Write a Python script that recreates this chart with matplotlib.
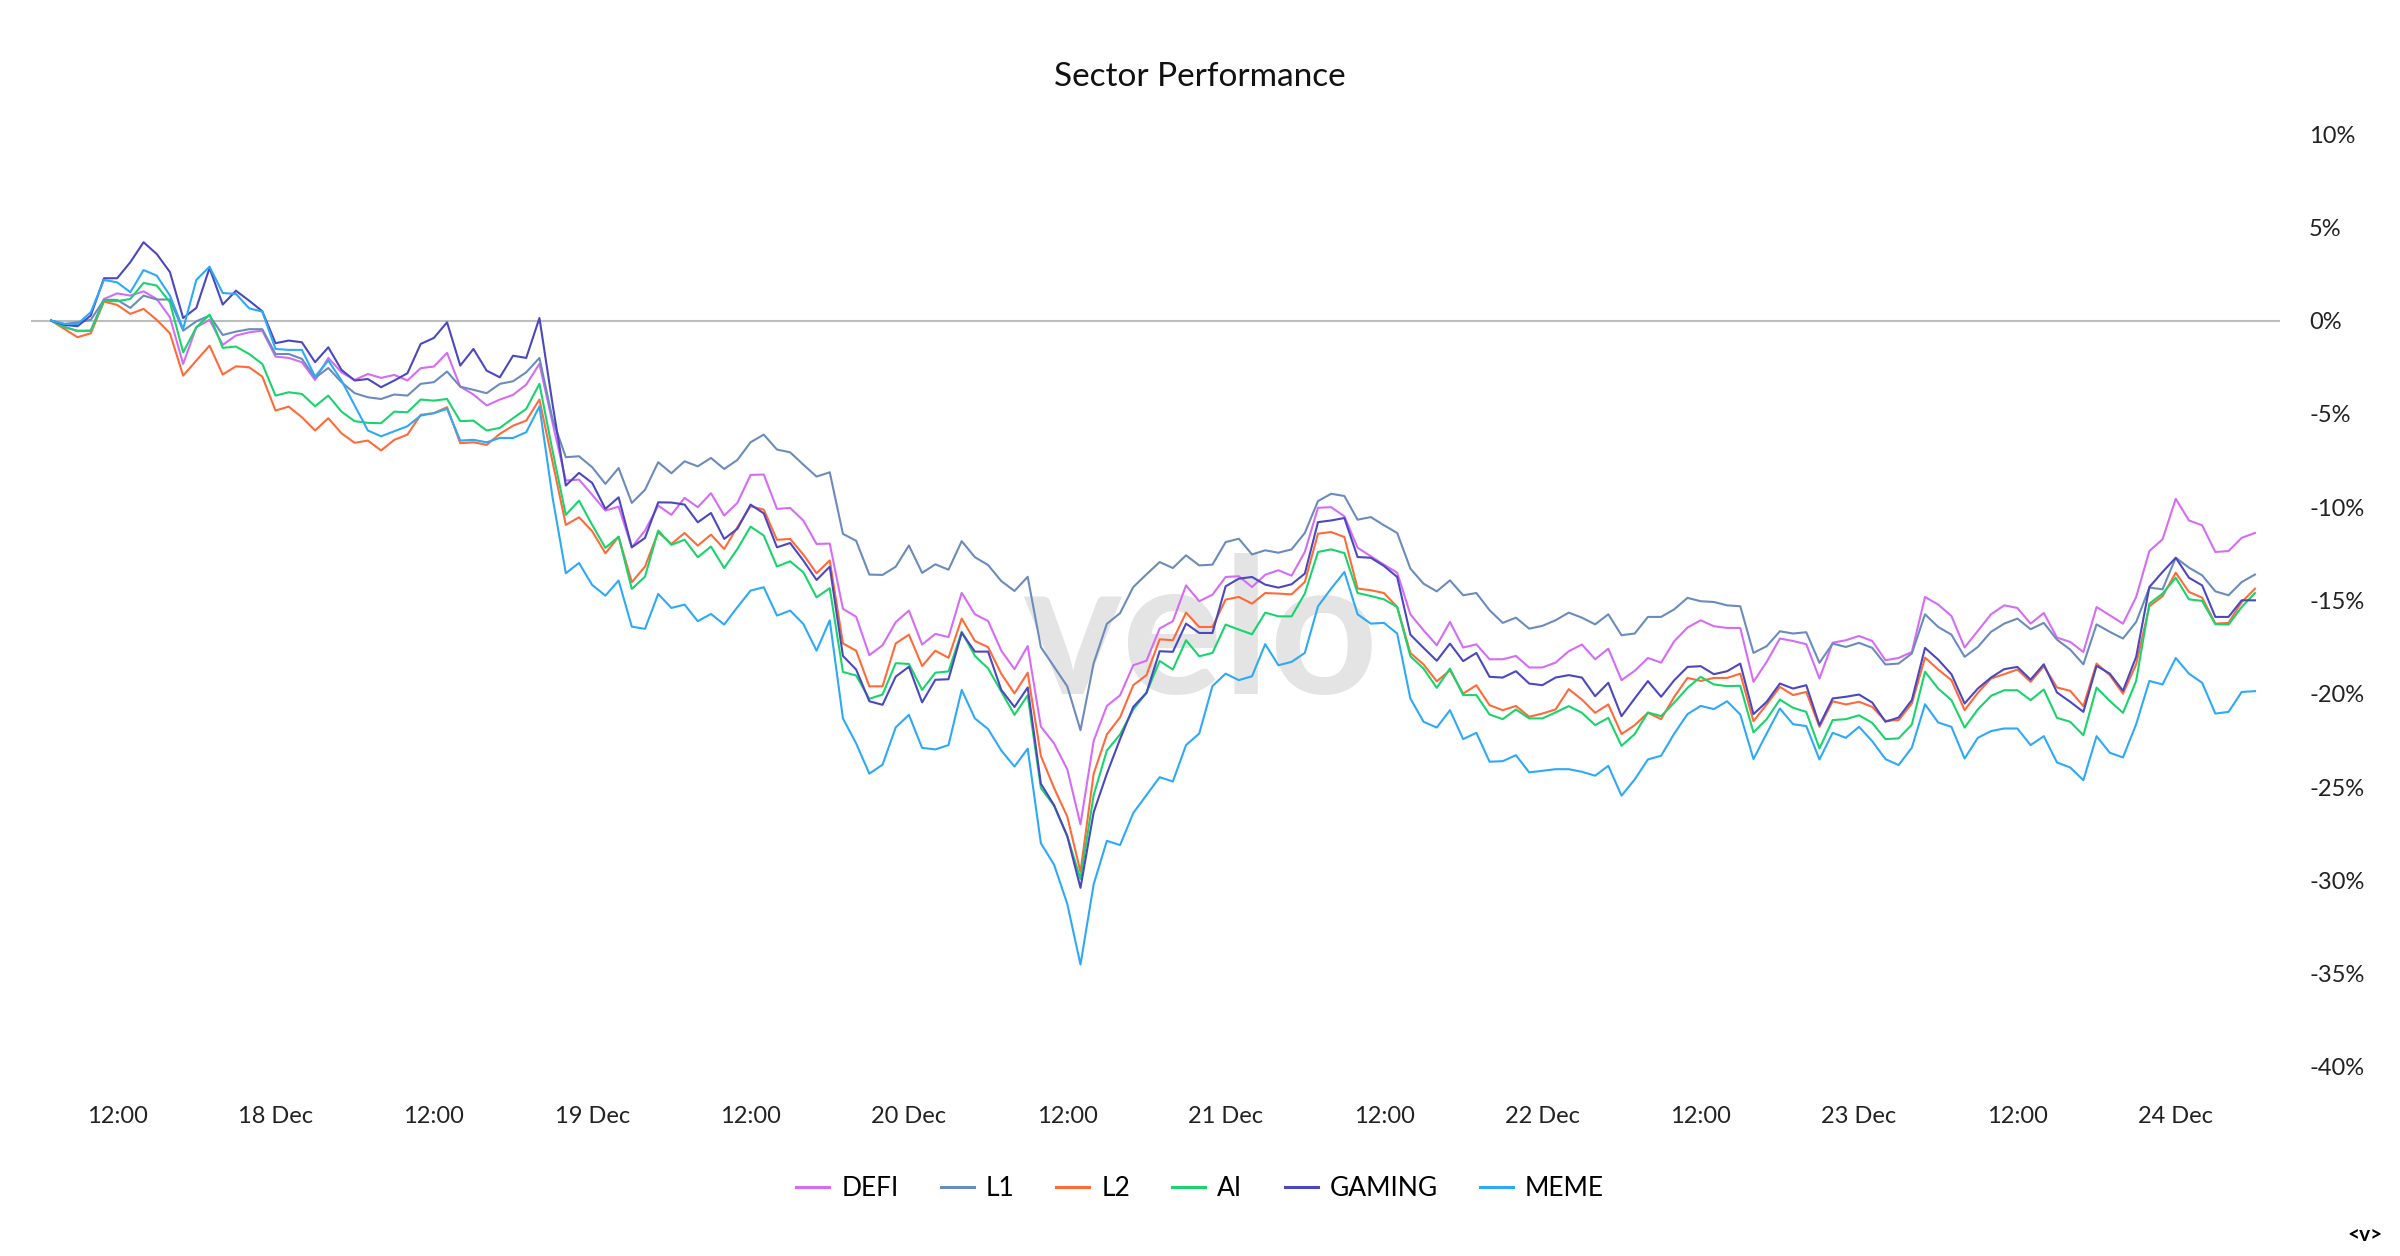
import pandas as pd
import matplotlib
matplotlib.use("Agg")
from matplotlib import pyplot as plt

plt.rcParams['font.family'] = ['Lato', 'DejaVu Sans']

# hourly % change since start, 17 Dec 07:00 -> 24 Dec 06:00
defi = [0, -0.32, -0.57, -0.54, 1.16, 1.46, 1.34, 1.57, 1.16, 0.18, -2.32, -0.36, 0.04, -1.3, -0.8, -0.63, -0.54, -1.93, -2.0, -2.23, -3.18,
        -2.0, -2.77, -3.18, -2.86, -3.07, -2.91, -3.21, -2.55, -2.46, -1.73, -3.54, -3.96, -4.55, -4.23, -3.98, -3.43, -2.32,
        -5.5, -8.57, -8.52, -9.34, -10.18, -9.97, -12.15, -11.25, -9.91, -10.41, -9.5, -10.0, -9.25, -10.45, -9.77, -8.27, -8.25, -10.09, -10.04, -10.72, -11.97,
        -11.95, -15.45, -15.87, -17.93, -17.4, -16.16, -15.54, -17.36, -16.79, -16.96, -14.59, -15.74, -16.1, -17.69, -18.68, -17.44, -21.76, -22.66, -24.05, -27.0, -22.52, -20.65, -20.08,
        -18.47, -18.23, -16.5, -16.11, -14.19, -15.04, -14.69, -13.74, -13.7, -14.28, -13.62, -13.38, -13.67, -12.4, -10.03, -10.0, -10.49, -12.17, -12.63, -13.08, -13.51, -15.74, -16.6, -17.4,
        -16.15, -17.52, -17.35, -18.15, -18.15, -17.97, -18.59, -18.59, -18.33, -17.72, -17.36, -18.15, -17.58, -19.27, -18.77, -18.08, -18.33, -17.18, -16.45, -16.06, -16.38, -16.47, -16.47, -19.36, -18.29,
        -17.04, -17.17, -17.34, -19.18, -17.26, -17.13, -16.9, -17.17, -18.2, -18.08, -17.76, -14.81, -15.22, -15.83, -17.52, -16.63, -15.74, -15.26, -15.4, -16.24, -15.67, -16.99, -17.22, -17.76,
        -15.35, -15.79, -16.24, -14.81, -12.35, -11.72, -9.55, -10.71, -10.97, -12.4, -12.35, -11.64, -11.38]
l1 = [0, -0.18, -0.09, 0.04, 1.11, 1.11, 0.68, 1.34, 1.13, 1.13, -0.54, -0.04, 0.27, -0.77, -0.59, -0.46, -0.46, -1.79, -1.79, -2.05, -3.07,
      -2.54, -3.3, -3.89, -4.11, -4.2, -3.96, -4.02, -3.39, -3.3, -2.73, -3.54, -3.71, -3.89, -3.39, -3.25, -2.77, -2.0,
      -5.3, -7.32, -7.27, -7.86, -8.75, -7.9, -9.77, -9.07, -7.59, -8.18, -7.54, -7.81, -7.36, -7.95, -7.47, -6.52, -6.11, -6.91, -7.06, -7.72, -8.36,
      -8.13, -11.43, -11.8, -13.61, -13.63, -13.19, -12.05, -13.52, -13.06, -13.35, -11.82, -12.68, -13.1, -13.96, -14.49, -13.73, -17.5, -18.55, -19.6, -21.95, -18.36, -16.25, -15.68,
      -14.28, -13.6, -12.94, -13.26, -12.58, -13.12, -13.08, -11.87, -11.69, -12.53, -12.31, -12.44, -12.26, -11.38, -9.67, -9.28, -9.4, -10.67, -10.53, -10.97, -11.38, -13.29, -14.1, -14.51,
      -13.92, -14.72, -14.6, -15.52, -16.2, -15.92, -16.51, -16.36, -16.06, -15.65, -15.92, -16.28, -15.74, -16.86, -16.77, -15.88, -15.88, -15.47, -14.86, -15.04, -15.08, -15.26, -15.31, -17.81, -17.45,
      -16.65, -16.77, -16.7, -18.34, -17.31, -17.49, -17.27, -17.54, -18.43, -18.38, -17.84, -15.74, -16.42, -16.83, -18.02, -17.49, -16.68, -16.24, -15.97, -16.54, -16.2, -17.1, -17.63, -18.42,
      -16.28, -16.68, -17.04, -16.15, -14.31, -14.4, -12.71, -13.24, -13.65, -14.51, -14.72, -14.01, -13.61]
l2 = [0, -0.45, -0.89, -0.68, 1.02, 0.84, 0.36, 0.63, 0.04, -0.68, -2.95, -2.14, -1.34, -2.89, -2.45, -2.5, -3.0, -4.82, -4.61, -5.18, -5.89,
      -5.23, -6.04, -6.55, -6.43, -6.96, -6.39, -6.11, -5.05, -4.96, -4.64, -6.57, -6.52, -6.66, -6.07, -5.63, -5.36, -4.23,
      -7.6, -10.95, -10.54, -11.29, -12.47, -11.58, -14.02, -13.18, -11.34, -11.97, -11.38, -12.06, -11.47, -12.24, -11.07, -9.95, -10.13, -11.75, -11.7, -12.54, -13.54,
      -12.85, -17.3, -17.69, -19.6, -19.6, -17.3, -16.83, -18.51, -17.69, -18.07, -15.97, -17.17, -17.5, -18.93, -19.98, -18.87, -23.33, -25.05, -26.58, -29.54, -24.28, -22.18, -21.26,
      -19.54, -19.0, -17.08, -17.13, -15.65, -16.42, -16.42, -14.95, -14.81, -15.17, -14.6, -14.63, -14.67, -14.01, -11.42, -11.33, -11.6, -14.36, -14.45, -14.6, -15.35, -17.81, -18.43, -19.33,
      -18.74, -19.99, -19.54, -20.61, -20.88, -20.65, -21.23, -21.06, -20.84, -19.75, -20.31, -21.02, -20.57, -22.16, -21.68, -21.02, -21.36, -20.16, -19.15, -19.31, -19.15, -19.15, -18.92, -21.47, -20.57,
      -19.63, -20.07, -19.9, -21.77, -20.4, -20.57, -20.43, -20.7, -21.45, -21.41, -20.52, -18.06, -18.7, -19.27, -20.88, -19.95, -19.18, -18.95, -18.7, -19.36, -18.52, -19.66, -19.84, -20.66,
      -18.38, -19.0, -19.99, -18.42, -15.31, -14.77, -13.51, -14.54, -14.85, -16.24, -16.2, -15.08, -14.37]
ai = [0, -0.36, -0.54, -0.54, 1.07, 1.04, 1.16, 2.02, 1.88, 0.98, -1.7, -0.36, 0.32, -1.46, -1.39, -1.79, -2.32, -4.02, -3.84, -3.93, -4.59,
      -4.02, -4.88, -5.39, -5.48, -5.5, -4.88, -4.91, -4.23, -4.29, -4.2, -5.39, -5.36, -5.89, -5.75, -5.23, -4.73, -3.39,
      -7.0, -10.41, -9.65, -10.95, -12.18, -11.58, -14.38, -13.72, -11.25, -12.02, -11.74, -12.68, -12.11, -13.26, -12.24, -11.04, -11.52, -13.18, -12.9, -13.49, -14.83,
      -14.34, -18.83, -19.02, -20.27, -20.04, -18.36, -18.4, -19.79, -18.87, -18.8, -16.67, -17.97, -18.64, -19.89, -21.13, -20.08, -25.05, -26.0, -27.63, -29.92, -25.43, -23.04, -22.18,
      -20.84, -19.95, -18.24, -18.7, -17.13, -17.99, -17.81, -16.29, -16.56, -16.81, -15.65, -15.85, -15.85, -14.63, -12.4, -12.26, -12.46, -14.6, -14.76, -14.94, -15.35, -17.99, -18.65, -19.68,
      -18.65, -20.07, -20.07, -21.11, -21.36, -20.84, -21.32, -21.32, -21.0, -20.66, -21.02, -21.68, -21.29, -22.79, -22.16, -21.0, -21.2, -20.47, -19.68, -19.09, -19.5, -19.59, -19.57, -22.07, -21.36,
      -20.31, -20.75, -20.97, -22.93, -21.41, -21.36, -21.15, -21.56, -22.43, -22.39, -21.65, -18.82, -19.72, -20.34, -21.81, -20.84, -20.11, -19.81, -19.81, -20.34, -19.77, -21.29, -21.5, -22.22,
      -19.67, -20.38, -21.02, -19.31, -15.17, -14.63, -13.78, -14.94, -15.02, -16.27, -16.29, -15.35, -14.6]
gaming = [0, -0.23, -0.3, 0.27, 2.27, 2.27, 3.13, 4.2, 3.57, 2.6, 0.14, 0.68, 2.82, 0.86, 1.6, 1.07, 0.5, -1.21, -1.07, -1.16, -2.23,
          -1.43, -2.64, -3.21, -3.13, -3.57, -3.21, -2.82, -1.25, -0.93, -0.09, -2.41, -1.52, -2.68, -3.04, -1.88, -2.0, 0.14,
          -4.5, -8.84, -8.16, -8.7, -10.09, -9.47, -12.15, -11.65, -9.74, -9.75, -9.86, -10.81, -10.31, -11.7, -11.16, -9.86, -10.33, -12.15, -11.92, -12.86, -13.9,
          -13.19, -17.97, -18.7, -20.4, -20.59, -19.08, -18.55, -20.46, -19.25, -19.22, -16.73, -17.74, -17.74, -19.79, -20.71, -19.66, -24.82, -25.97, -27.63, -30.4, -26.35, -24.28, -22.43,
          -20.7, -19.95, -17.72, -17.75, -16.24, -16.74, -16.74, -14.24, -13.83, -13.74, -14.15, -14.31, -14.13, -13.56, -10.8, -10.71, -10.58, -12.67, -12.71, -13.15, -13.74, -16.83, -17.54, -18.23,
          -17.31, -18.25, -17.81, -19.09, -19.13, -18.79, -19.45, -19.54, -19.13, -19.0, -19.13, -20.13, -19.41, -21.2, -20.25, -19.32, -20.16, -19.27, -18.56, -18.52, -18.95, -18.79, -18.38, -21.09, -20.43,
          -19.45, -19.72, -19.54, -21.68, -20.25, -20.16, -20.04, -20.47, -21.5, -21.27, -20.34, -17.54, -18.17, -18.95, -20.52, -19.72, -19.13, -18.68, -18.56, -19.24, -18.42, -19.93, -20.43, -20.97,
          -18.5, -18.92, -19.84, -18.02, -14.28, -13.47, -12.71, -13.78, -14.19, -15.88, -15.88, -14.99, -14.99]
meme = [0, -0.18, -0.18, 0.45, 2.18, 2.05, 1.52, 2.71, 2.41, 1.34, -0.45, 2.18, 2.89, 1.48, 1.43, 0.66, 0.48, -1.52, -1.57, -1.57, -3.0,
        -2.14, -3.21, -4.55, -5.89, -6.2, -5.93, -5.66, -5.09, -4.96, -4.73, -6.43, -6.39, -6.52, -6.29, -6.29, -5.98, -4.6,
        -9.5, -13.54, -12.99, -14.17, -14.74, -13.93, -16.4, -16.52, -14.65, -15.4, -15.22, -16.11, -15.72, -16.29, -15.36, -14.47, -14.29, -15.81, -15.54, -16.26, -17.69,
        -16.06, -21.32, -22.66, -24.28, -23.8, -21.8, -21.13, -22.9, -22.98, -22.75, -19.79, -21.32, -21.89, -23.04, -23.9, -22.94, -28.01, -29.16, -31.26, -34.51, -30.21, -27.88, -28.11,
        -26.39, -25.43, -24.47, -24.7, -22.75, -22.13, -19.59, -18.92, -19.27, -19.06, -17.34, -18.47, -18.29, -17.81, -15.31, -14.36, -13.47, -15.74, -16.24, -16.2, -16.77, -20.25, -21.5, -21.81,
        -20.88, -22.43, -22.09, -23.64, -23.61, -23.29, -24.21, -24.13, -24.04, -24.04, -24.18, -24.39, -23.86, -25.46, -24.59, -23.52, -23.32, -22.13, -21.09, -20.65, -20.82, -20.4, -21.11, -23.5, -22.13,
        -20.79, -21.63, -21.73, -23.52, -22.09, -22.36, -21.77, -22.54, -23.5, -23.82, -22.89, -20.56, -21.54, -21.77, -23.47, -22.36, -22.0, -21.86, -21.86, -22.75, -22.27, -23.68, -23.95, -24.63,
        -22.27, -23.16, -23.41, -21.63, -19.31, -19.5, -18.08, -18.92, -19.41, -21.06, -20.97, -19.9, -19.86]

names = ["DEFI", "L1", "L2", "AI", "GAMING", "MEME"]
colors = ["#d56cf6", "#6b8bbd", "#ff6a3a", "#19d46c", "#4b47c0", "#2ea9f7"]
yticks = [10, 5, 0, -5, -10, -15, -20, -25, -30, -35, -40]

times = pd.date_range("2024-12-17 07:00", periods=len(defi), freq="h")
xticks = pd.date_range("2024-12-17 12:00", "2024-12-24 00:00", freq="12h")
xlabels = ["12:00" if t.hour == 12 else f"{t.day} Dec" for t in xticks]

fig = plt.figure(figsize=(24, 12.56), dpi=100)
ax = fig.add_axes([0.0128, 0.1505, 0.9372, 0.7428])

ax.text(0.52, 0.458, "velo", transform=ax.transAxes, ha="center", va="center",
        fontsize=136, fontweight="bold", color="#e4e4e4", zorder=0)
ax.axhline(0, color="#bdbdbd", lw=1.5, zorder=1)

for vals, name, c in zip([defi, l1, l2, ai, gaming, meme], names, colors):
    ax.plot(times, vals, color=c, lw=1.5, label=name, zorder=2)

ax.set_ylim(-40, 10)
ax.set_xlim(times[0] - pd.Timedelta(hours=1.55), times[-1] + pd.Timedelta(hours=1.9))
ax.set_yticks(yticks)
ax.set_yticklabels([f"{v}%" for v in yticks])
ax.set_xticks(xticks)
ax.set_xticklabels(xlabels)
ax.yaxis.tick_right()
ax.tick_params(axis="both", length=0, labelsize=17, colors="#222222")
ax.tick_params(axis="y", pad=21)
ax.tick_params(axis="x", pad=28)
for lab in ax.get_yticklabels():
    lab.set_horizontalalignment("left")
for s in ax.spines.values():
    s.set_visible(False)

fig.text(0.5, 0.939, "Sector Performance", ha="center", va="center", fontsize=24, color="#111111")
leg = fig.legend(loc="center", bbox_to_anchor=(0.5, 0.0535), ncol=6, frameon=False, fontsize=19,
                 handlelength=1.25, handletextpad=0.45, columnspacing=1.6)
for h in leg.get_lines():
    h.set_linewidth(2.2)
fig.text(0.9854, 0.0165, "<v>", ha="center", va="center", fontsize=15, fontweight="bold")

fig.savefig("out.png", dpi=100)
